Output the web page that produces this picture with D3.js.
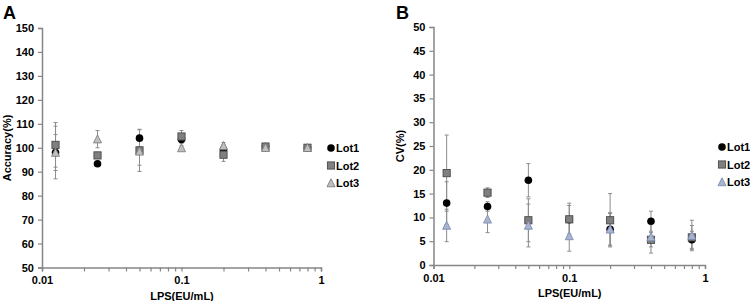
<!DOCTYPE html>
<html><head><meta charset="utf-8">
<script src="https://cdn.jsdelivr.net/npm/d3@7"></script>
<style>
body{margin:0;background:#fff;}
svg{display:block;font-family:"Liberation Sans",Arial,sans-serif;font-weight:bold;}
</style></head>
<body><svg id="c" width="750" height="301"></svg>
<script>
const conc = [0.0125, 0.025, 0.05, 0.1, 0.2, 0.4, 0.8];
const lots = ["Lot1", "Lot2", "Lot3"];
// Panel A: Accuracy(%)
const accLot1 = [98.0, 93.3, 104.0, 103.4, 99.3, 100.5, 100.0];
const accLot1Err = [11.0, 1.0, 3.5, 1.5, 2.0, 0.8, 0.5];
const accLot2 = [101.2, 96.8, 98.9, 104.7, 97.1, 100.5, 100.0];
const accLot2Err = [9.3, 1.0, 8.8, 2.5, 2.8, 1.0, 0.5];
const accLot3 = [98.0, 103.6, 98.5, 99.9, 100.8, 100.0, 100.0];
const accLot3Err = [7.5, 3.6, 5.8, 1.0, 1.4, 0.8, 0.5];
// Panel B: CV(%)
const cvLot1 = [13.0, 12.3, 17.8, 9.5, 7.5, 9.2, 5.3];
const cvLot1Err = [4.5, 1.0, 3.5, 3.0, 3.3, 2.1, 1.8];
const cvLot2 = [19.3, 15.2, 9.4, 9.6, 9.4, 5.3, 5.8];
const cvLot2Err = [8.0, 1.0, 4.5, 3.4, 5.6, 1.5, 2.5];
const cvLot3 = [8.3, 9.6, 8.3, 6.1, 7.5, 5.9, 6.2];
const cvLot3Err = [3.4, 2.8, 4.5, 3.2, 3.5, 3.4, 3.2];
const accTicks = [50, 60, 70, 80, 90, 100, 110, 120, 130, 140, 150];
const cvTicks = [0, 5, 10, 15, 20, 25, 30, 35, 40, 45, 50];
const xMajor = [0.01, 0.1, 1];
const xMajorLabels = ["0.01", "0.1", "1"];

const svg = d3.select("#c");
const axisCol = "#868686";
const errCol = "#8c8c8c";

function panel(cfg) {
  const g = svg.append("g");
  const x = d3.scaleLog().domain([0.01, 1]).range([cfg.x0, cfg.x1]);
  const y = d3.scaleLinear().domain(cfg.yDom).range([cfg.y0, cfg.y1]);
  // y axis
  const ya = g.append("g").attr("transform", `translate(${cfg.x0},0)`)
    .call(d3.axisLeft(y).tickValues(cfg.yTicks).tickSize(4).tickPadding(4));
  ya.select(".domain").attr("stroke", axisCol).attr("stroke-width", 1.5);
  ya.selectAll(".tick line").attr("stroke", axisCol).attr("stroke-width", 1.2);
  ya.selectAll("text").attr("font-size", 11).attr("font-weight", "bold").attr("fill", "#000")
    .attr("font-family", '"Liberation Sans",Arial,sans-serif');
  // x axis
  const minor = [];
  [0.01, 0.1].forEach(d => { for (let k = 2; k <= 9; k++) minor.push(d * k); });
  const xa = g.append("g").attr("transform", `translate(0,${cfg.y0})`)
    .call(d3.axisBottom(x).tickValues(xMajor.concat(minor)).tickSize(4).tickPadding(5)
      .tickFormat(d => { const i = xMajor.findIndex(v => Math.abs(v - d) < 1e-9); return i >= 0 ? xMajorLabels[i] : ""; }));
  xa.select(".domain").attr("stroke", axisCol).attr("stroke-width", 1.5);
  xa.selectAll(".tick line").attr("stroke", axisCol).attr("stroke-width", 1.2);
  xa.selectAll("text").attr("font-size", 11).attr("font-weight", "bold").attr("fill", "#000")
    .attr("font-family", '"Liberation Sans",Arial,sans-serif');
  // titles
  g.append("text").attr("x", (cfg.x0 + cfg.x1) / 2 + 0.5).attr("y", cfg.y0 + 32)
    .attr("text-anchor", "middle").attr("font-size", 11).text("LPS(EU/mL)");
  g.append("text").attr("transform", `translate(${cfg.ytX},${cfg.ytY}) rotate(-90)`)
    .attr("text-anchor", "middle").attr("font-size", 11).text(cfg.yTitle);
  g.append("text").attr("x", cfg.letX).attr("y", 19).attr("font-size", 18).text(cfg.letter);

  // error bars
  cfg.series.forEach(s => {
    const eg = g.append("g");
    conc.forEach((c, i) => {
      const cx = x(c), v = s.vals[i], e = s.errs[i];
      const yt = y(v + e), yb = y(v - e);
      eg.append("line").attr("x1", cx).attr("x2", cx).attr("y1", yt).attr("y2", yb)
        .attr("stroke", errCol).attr("stroke-width", 1);
      [yt, yb].forEach(yy => eg.append("line").attr("x1", cx - 2).attr("x2", cx + 2)
        .attr("y1", yy).attr("y2", yy).attr("stroke", errCol).attr("stroke-width", 1));
    });
  });
  // markers
  function marker(sel, s, cx, cy) {
    if (s.shape === "circle") {
      sel.append("circle").attr("cx", cx).attr("cy", cy).attr("r", 3.8).attr("fill", s.fill);
    } else if (s.shape === "square") {
      sel.append("rect").attr("x", cx - 3.6).attr("y", cy - 3.6).attr("width", 7.2).attr("height", 7.2)
        .attr("fill", s.fill).attr("stroke", s.stroke).attr("stroke-width", 0.9);
    } else {
      const h = 7.5, w = 8;
      sel.append("path").attr("d", `M${cx},${cy - h / 2 - 0.5}L${cx + w / 2},${cy + h / 2}L${cx - w / 2},${cy + h / 2}Z`)
        .attr("fill", s.fill).attr("stroke", s.stroke).attr("stroke-width", 0.9);
    }
  }
  cfg.series.forEach(s => {
    const mg = g.append("g");
    conc.forEach((c, i) => marker(mg, s, x(c), y(s.vals[i])));
  });
  // legend
  cfg.series.forEach((s, i) => {
    const ly = cfg.legY + i * 17.5;
    const lg = g.append("g");
    marker(lg, s, cfg.legX, ly);
    lg.append("text").attr("x", cfg.legX + 5).attr("y", ly + 4).attr("font-size", 11).text(lots[i]);
  });
}

panel({
  x0: 42, x1: 321, y0: 267.5, y1: 28, yDom: [50, 150], yTicks: accTicks,
  yTitle: "Accuracy(%)", ytX: 11, ytY: 148, letter: "A", letX: 3, legX: 331, legY: 148,
  series: [
    {vals: accLot1, errs: accLot1Err, shape: "circle", fill: "#000"},
    {vals: accLot2, errs: accLot2Err, shape: "square", fill: "#7f7f7f", stroke: "#4a4a4a"},
    {vals: accLot3, errs: accLot3Err, shape: "triangle", fill: "#bfbfbf", stroke: "#7f7f7f"}
  ]
});
panel({
  x0: 433.5, x1: 705, y0: 265, y1: 27, yDom: [0, 50], yTicks: cvTicks,
  yTitle: "CV(%)", ytX: 404, ytY: 146, letter: "B", letX: 396, legX: 722, legY: 147,
  series: [
    {vals: cvLot1, errs: cvLot1Err, shape: "circle", fill: "#000"},
    {vals: cvLot2, errs: cvLot2Err, shape: "square", fill: "#7f7f7f", stroke: "#4a4a4a"},
    {vals: cvLot3, errs: cvLot3Err, shape: "triangle", fill: "#a9b4cf", stroke: "#7d8db5"}
  ]
});
</script></body></html>
